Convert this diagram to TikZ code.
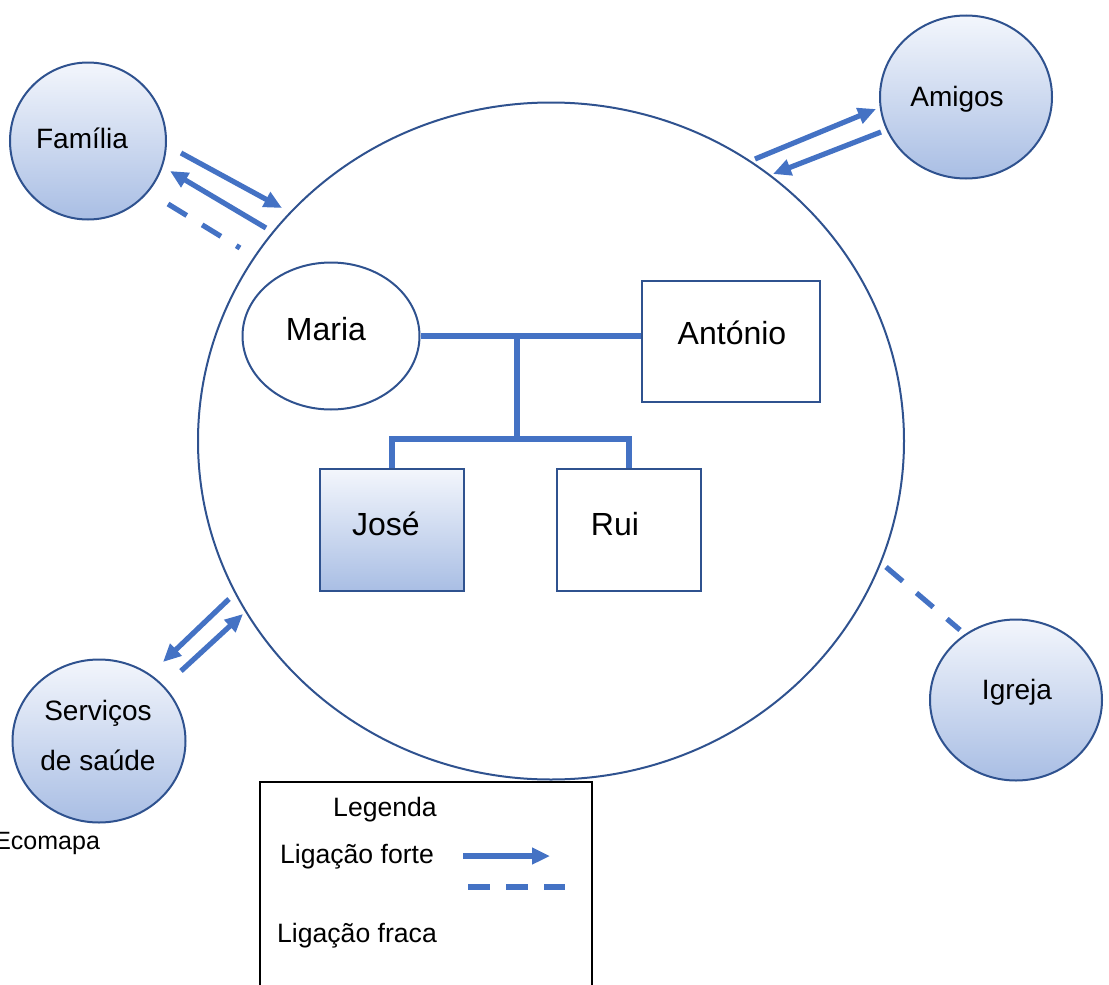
\documentclass[tikz,border=0pt]{standalone}
\usepackage{fontspec}
\setmainfont{Liberation Sans}
\usetikzlibrary{arrows.meta,shapes.geometric}
\definecolor{lineblue}{HTML}{4472C4}
\definecolor{rimblue}{HTML}{2F528F}
\definecolor{shadetop}{HTML}{F3F6FC}
\definecolor{shadebot}{HTML}{A9BEE4}
\tikzset{>={Triangle[length=9pt,width=8pt]},
  system/.style = {ellipse,draw=rimblue,line width=1pt,top color=shadetop,bottom color=shadebot,inner sep=0pt},
  member/.style = {draw=rimblue,line width=1pt,inner sep=0pt},
  sysname/.style = {align=center,inner sep=0pt,font=\fontsize{14}{25}\selectfont},
  memname/.style = {inner sep=0pt,font=\fontsize{16}{18}\selectfont},
  strong/.style = {lineblue,line width=2.6pt,->},
  weak/.style = {lineblue,line width=2.6pt,dash pattern=on 11pt off 9pt},
  famline/.style = {lineblue,line width=3pt},
  legtext/.style = {font=\fontsize{13.3}{15}\selectfont}
}
\begin{document}
\begin{tikzpicture}[x=0.5pt,y=-0.5pt]
  \useasboundingbox (0,0) rectangle (1109,985);

  % the household and its members
  \node[ellipse,draw=rimblue,line width=1pt,minimum width=353pt,minimum height=338.5pt] (home) at (551,441) {};
  \node[member,ellipse,minimum width=88.5pt,minimum height=73.5pt] (maria) at (331,336) {};
  \node[member,rectangle,minimum width=89pt,minimum height=60.5pt] (antonio) at (731,341) {};
  \node[member,rectangle,minimum width=72pt,minimum height=61pt,top color=shadetop,bottom color=shadebot] (jose) at (392,530) {};
  \node[member,rectangle,minimum width=72pt,minimum height=61pt] (rui) at (629,530) {};
  \node[memname] (maria name) at (326,329) {Maria};
  \node[memname] (antonio name) at (732,333) {António};
  \node[memname] (jose name) at (386,524) {José};
  \node[memname] (rui name) at (615,524) {Rui};

  \coordinate (couple) at (517,334);
  \coordinate (sibs) at (517,439);
  \draw[famline] (maria.east) -- (antonio.west |- maria.east);
  \draw[famline] (couple) -- (sibs);
  \draw[famline] (jose.north) |- (sibs) -| (rui.north);

  % outside systems
  \node[system,minimum width=78pt,minimum height=78.5pt] (familia) at (88,141) {};
  \node[system,minimum width=86pt,minimum height=81.5pt] (amigos) at (966,97) {};
  \node[system,minimum width=86.5pt,minimum height=81.5pt] (servicos) at (99,741) {};
  \node[system,minimum width=86pt,minimum height=80.5pt] (igreja) at (1016,700) {};
  \node[sysname] (familia name) at (82,138) {Família};
  \node[sysname] (amigos name) at (957,99) {Amigos};
  \node[sysname] (servicos name) at (98,735) {Serviços\\de saúde};
  \node[sysname] (igreja name) at (1017,692) {Igreja};

  % links
  \coordinate (fam out a) at (181,153);  \coordinate (fam out b) at (282,208);
  \coordinate (fam in a) at (266,228);   \coordinate (fam in b) at (170,171);
  \coordinate (fam weak a) at (168,204); \coordinate (fam weak b) at (240,248);
  \draw[strong] (fam out a) -- (fam out b);
  \draw[strong] (fam in a) -- (fam in b);
  \draw[weak] (fam weak a) -- (fam weak b);

  \coordinate (ami out a) at (755,159);  \coordinate (ami out b) at (876,109);
  \coordinate (ami in a) at (881,132);   \coordinate (ami in b) at (773,174);
  \draw[strong] (ami out a) -- (ami out b);
  \draw[strong] (ami in a) -- (ami in b);

  \coordinate (ser out a) at (229,599);  \coordinate (ser out b) at (163,662);
  \coordinate (ser in a) at (181,671);   \coordinate (ser in b) at (243,614);
  \draw[strong] (ser out a) -- (ser out b);
  \draw[strong] (ser in a) -- (ser in b);

  \coordinate (igr weak a) at (886,567); \coordinate (igr weak b) at (960,630);
  \draw[weak] (igr weak a) -- (igr weak b);

  % legend
  \draw[line width=1pt] (260,990) -- (260,782) -- (592,782) -- (592,990);
  \node[legtext] (legenda) at (385,810) {Legenda};
  \node[legtext] (forte) at (357,857) {Ligação forte};
  \node[legtext] (fraca) at (357,936) {Ligação fraca};
  \coordinate (leg strong a) at (463,856); \coordinate (leg strong b) at (550,856);
  \coordinate (leg weak a) at (468,887);   \coordinate (leg weak b) at (565,887);
  \draw[strong] (leg strong a) -- (leg strong b);
  \draw[weak,dash pattern=on 11pt off 8pt] (leg weak a) -- (leg weak b);

  \node[legtext,anchor=east,font=\fontsize{12.5}{15}\selectfont] (ecomapa) at (107,843) {Ecomapa};
\end{tikzpicture}
\end{document}
